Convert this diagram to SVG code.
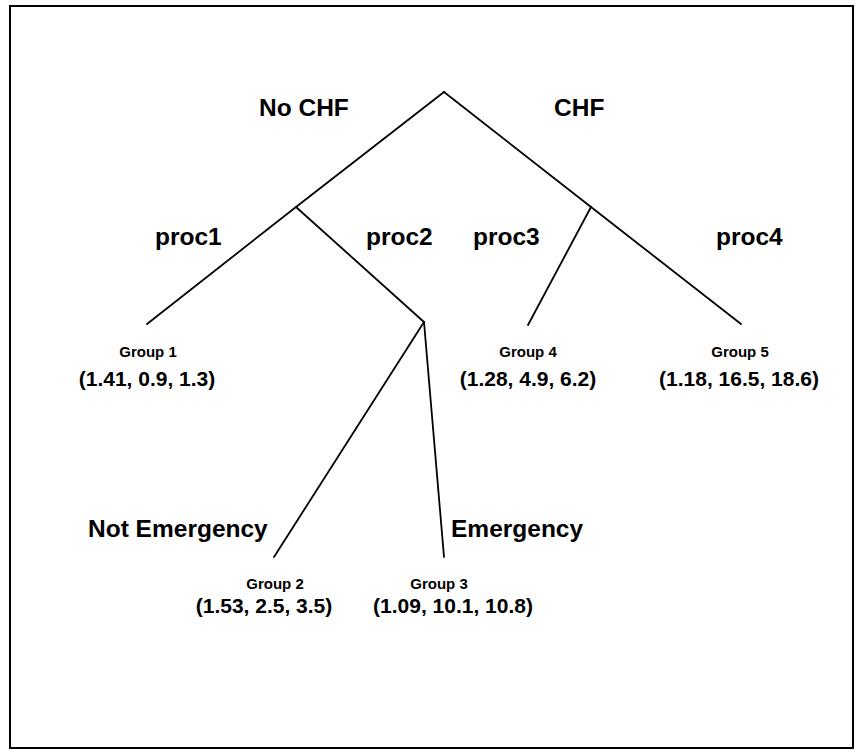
<svg xmlns="http://www.w3.org/2000/svg" width="864" height="753" viewBox="0 0 864 753">
<style>
.edge{stroke:#000;stroke-width:1.8;fill:none;stroke-linecap:round}
.big{font-family:"Liberation Sans",Arial,sans-serif;font-weight:bold;font-size:24.5px;fill:#000}
.small{font-family:"Liberation Sans",Arial,sans-serif;font-weight:bold;font-size:15px;fill:#000;text-anchor:middle}
.val{font-family:"Liberation Sans",Arial,sans-serif;font-weight:bold;font-size:21px;fill:#000;text-anchor:middle}
</style>
<rect x="0" y="0" width="864" height="753" fill="#fff"/>
<rect x="10" y="6" width="843" height="742" fill="none" stroke="#000" stroke-width="2"/>
<g id="connectors">
<line class="edge" x1="444" y1="92" x2="296" y2="207"/>
<line class="edge" x1="444" y1="92" x2="591" y2="207"/>
<line class="edge" x1="296" y1="207" x2="147" y2="324"/>
<line class="edge" x1="296" y1="207" x2="424" y2="322"/>
<line class="edge" x1="424" y1="322" x2="274" y2="557"/>
<line class="edge" x1="424" y1="322" x2="444" y2="557"/>
<line class="edge" x1="591" y1="207" x2="528" y2="325"/>
<line class="edge" x1="591" y1="207" x2="741" y2="324"/>
</g>
<g id="labels">
<text class="big" x="259" y="116">No CHF</text>
<text class="big" x="554" y="116">CHF</text>
<text class="big" x="155" y="245">proc1</text>
<text class="big" x="366" y="245">proc2</text>
<text class="big" x="473" y="245">proc3</text>
<text class="big" x="716" y="245">proc4</text>
<text class="big" x="88" y="537">Not Emergency</text>
<text class="big" x="451" y="537">Emergency</text>
</g>
<g id="group1"><text class="small" x="148" y="357">Group 1</text><text class="val" x="147" y="386">(1.41, 0.9, 1.3)</text></g>
<g id="group4"><text class="small" x="528" y="357">Group 4</text><text class="val" x="528" y="386">(1.28, 4.9, 6.2)</text></g>
<g id="group5"><text class="small" x="740" y="357">Group 5</text><text class="val" x="739" y="386">(1.18, 16.5, 18.6)</text></g>
<g id="group2"><text class="small" x="275" y="589">Group 2</text><text class="val" x="264" y="613">(1.53, 2.5, 3.5)</text></g>
<g id="group3"><text class="small" x="439" y="589">Group 3</text><text class="val" x="453" y="613">(1.09, 10.1, 10.8)</text></g>
</svg>
